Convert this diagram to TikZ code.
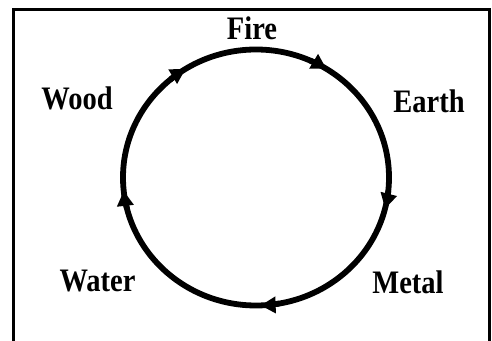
\documentclass[tikz,border=0pt]{standalone}
\usepackage{fontspec}
\setmainfont{Liberation Serif}
\usepackage{tikz}
\usetikzlibrary{arrows.meta, positioning, calc}
\definecolor{inkblack}{HTML}{000000}
\tikzset{
  phase/.style={font=\fontsize{28.5}{32}\selectfont\bfseries, inkblack, anchor=base,
    inner sep=0pt, yscale=1.15, transform shape},
  cycleline/.style={inkblack, line width=5.8pt},
  cycletip/.style={inkblack, line width=5.8pt, -{Triangle[length=15pt, width=16pt]}}
}

\begin{document}
\begin{tikzpicture}[x=1pt,y=1pt]
  \useasboundingbox (0,0) rectangle (492,340);
  % frame, bottom edge runs off the page
  \draw[inkblack, line width=3pt] (13,-5) |- (489,330) -- (489,-5);

  \coordinate (hub) at (256,162.5);
  \draw[cycleline] (hub) ellipse [x radius=133, y radius=128];
  \foreach \ang in {122,58,-14,-88,186}{
    \draw[cycletip] ([shift={(\ang+8:133 and 128)}]hub)
      arc [start angle=\ang+8, end angle=\ang, x radius=133, y radius=128];
  }

  \node[phase] (fire)  at (252,300) {Fire};
  \node[phase] (wood)  at (77,230)  {Wood};
  \node[phase] (earth) at (429,227) {Earth};
  \node[phase] (water) at (97.5,49) {Water};
  \node[phase] (metal) at (408,47)  {Metal};
\end{tikzpicture}
\end{document}
